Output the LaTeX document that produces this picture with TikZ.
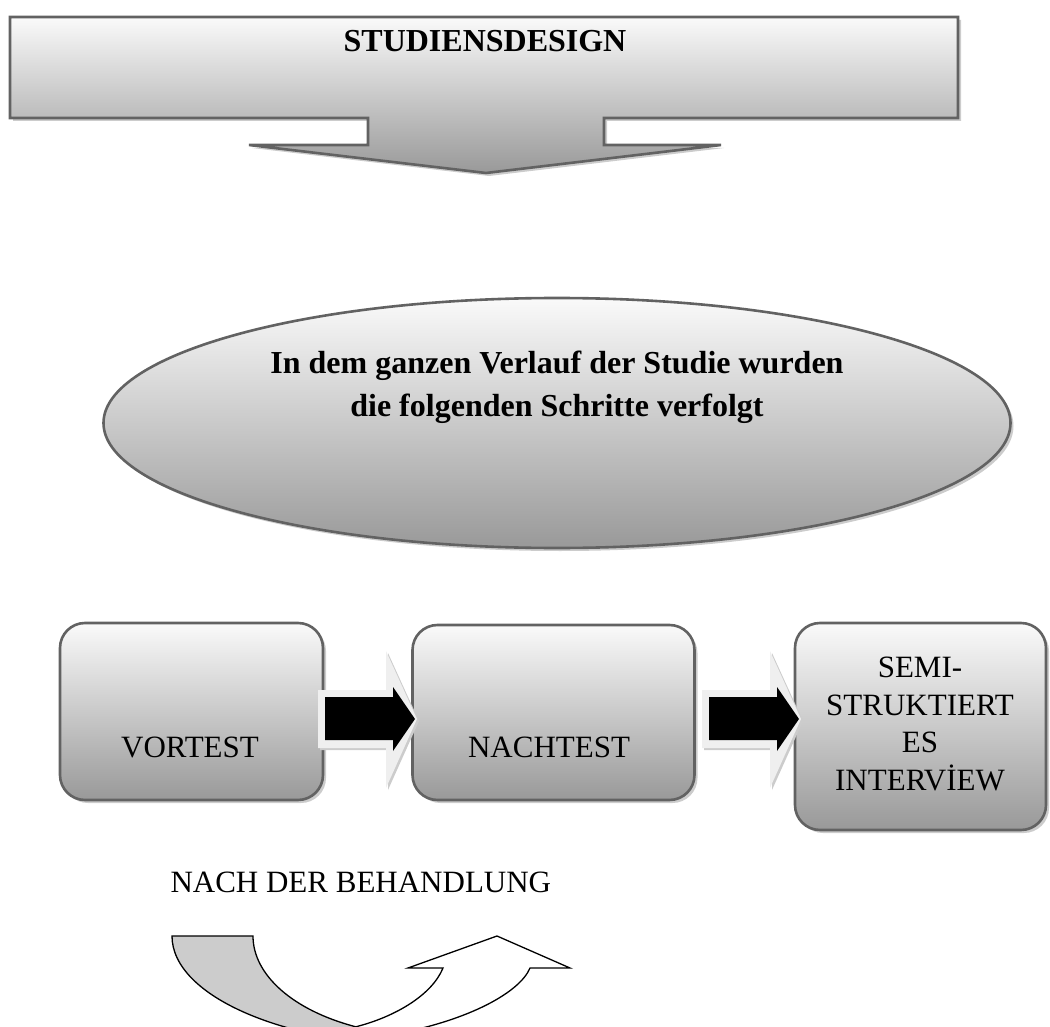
\documentclass[tikz,border=0pt]{standalone}
\usepackage{fontspec}
\setmainfont{Liberation Serif}
\usetikzlibrary{shapes.geometric,shadows}
\definecolor{rimgray}{HTML}{626262}
\definecolor{glowgray}{HTML}{EFEFEF}
\definecolor{bandgray}{HTML}{CCCCCC}

\begin{document}
\begin{tikzpicture}[x=1pt,y=-1pt,
      shaded/.style={draw=rimgray,line width=2.6pt,top color=black!2,middle color=black!13,bottom color=black!40,
        drop shadow={shadow xshift=3pt,shadow yshift=-3pt,fill=black!20,opacity=1}},
      stepbox/.style={shaded,rectangle,rounded corners=25pt},
      lbl/.style={font=\fontsize{31}{37.5}\selectfont,align=center},
      boldlbl/.style={font=\bfseries\fontsize{32}{43}\selectfont,align=center}
    ]
      \useasboundingbox (0,0) rectangle (1050,1027);
      % banner with arrow
      \path[shaded] (10,17) -- (958,17) -- (958,118) -- (604,118) -- (604,145) -- (721,145)
        -- (486,173) -- (249,145) -- (368,145) -- (368,118) -- (10,118) -- cycle;
      \node[boldlbl,anchor=base] (title) at (485,52) {STUDIENSDESIGN};
      % ellipse
      \node[shaded,ellipse,minimum width=907pt,minimum height=250pt] (frame) at (557,423) {};
      \node[boldlbl] (aim) at (557,387) {In dem ganzen Verlauf der Studie wurden\\die folgenden Schritte verfolgt};
      % steps
      \node[stepbox,minimum width=263pt,minimum height=177pt] (vor) at (191.5,711.5) {};
      \node[stepbox,minimum width=282pt,minimum height=175pt] (nach) at (553.5,712.5) {};
      \node[stepbox,minimum width=251pt,minimum height=207pt] (semi) at (920.5,726.5) {};
      \node[lbl,anchor=base] (vortext) at (190,757) {VORTEST};
      \node[lbl,anchor=base] (nachtext) at (549,757) {NACHTEST};
      \node[lbl] (semitext) at (920,724) {SEMI-\\STRUKTIERT\\ES\\INTERVİEW};
      % block arrows
      \foreach \dx in {0,384} {
        \fill[glowgray,drop shadow={shadow xshift=2pt,shadow yshift=-2pt,fill=black!20,opacity=1}]
          (318+\dx,690) -- (386+\dx,690) -- (386+\dx,651) -- (417+\dx,719) -- (386+\dx,788)
          -- (386+\dx,748) -- (318+\dx,748) -- cycle;
        \fill[black] (325+\dx,697) -- (393+\dx,697) -- (393+\dx,687) -- (415+\dx,719)
          -- (393+\dx,751) -- (393+\dx,740) -- (325+\dx,740) -- cycle;
      }
      \node[lbl,anchor=base west] (after) at (167,892) {NACH DER BEHANDLUNG};
      % curved arrow
      \begin{scope}
        \clip (0,0) rectangle (1050,1027);
        \filldraw[fill=bandgray,line width=1.3pt] (172,936) -- (253,936)
          arc[start angle=180,end angle=115,x radius=177,y radius=100] -- (355,1100) -- (430,1100)
          -- (430,1046) arc[start angle=90,end angle=180,x radius=258,y radius=110] -- cycle;
        \filldraw[fill=white,line width=1.3pt] (355,1027) .. controls (395,1017) and (432,995) .. (443,968)
          -- (408,968) -- (497,936) -- (570,968) -- (530,968)
          .. controls (520,992) and (470,1020) .. (395,1034) -- (380,1060) -- cycle;
      \end{scope}
    \end{tikzpicture}
\end{document}
